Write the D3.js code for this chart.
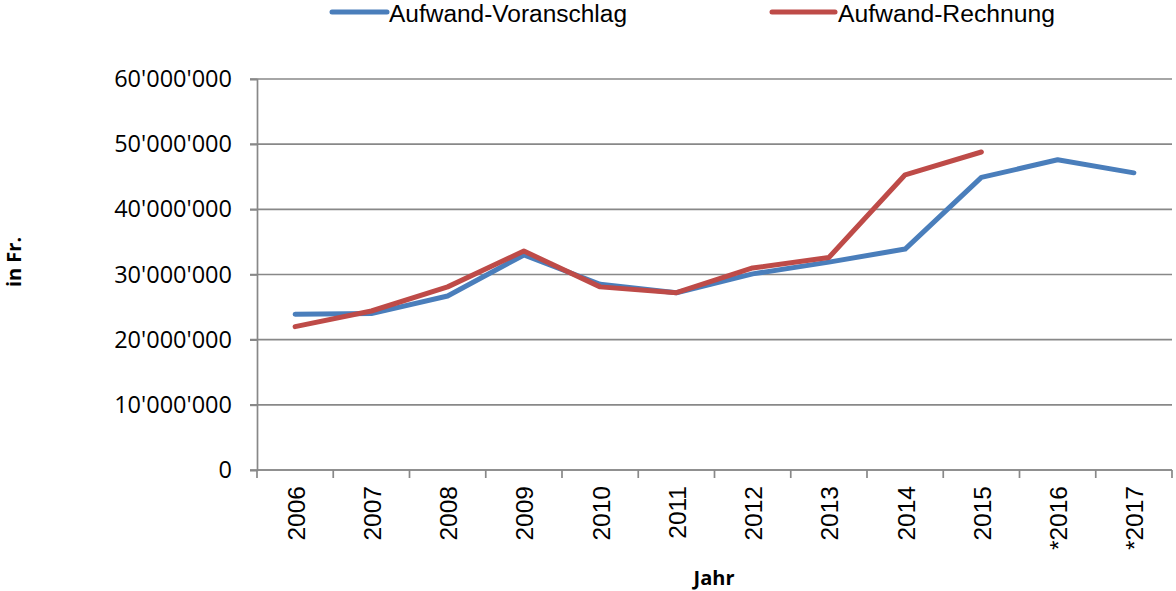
<!DOCTYPE html>
<html>
<head>
<meta charset="utf-8">
<script src="https://cdn.jsdelivr.net/npm/d3@7"></script>
<style>
  html, body { margin: 0; padding: 0; background: #fff; }
  svg { display: block; }
</style>
</head>
<body>
<svg id="chart" width="1176" height="591"></svg>
<script>
// Jahre (Kategorien) und Aufwandwerte in Franken
const years = ["2006", "2007", "2008", "2009", "2010", "2011", "2012", "2013", "2014", "2015", "*2016", "*2017"];
const voranschlag = [23900000, 24000000, 26700000, 33000000, 28500000, 27200000, 30100000, 31900000, 33900000, 44900000, 47600000, 45600000];
const rechnung = [22000000, 24400000, 28100000, 33600000, 28100000, 27200000, 31000000, 32600000, 45300000, 48800000, null, null];
const yTicks = [0, 10000000, 20000000, 30000000, 40000000, 50000000, 60000000];
const seriesNames = ["Aufwand-Voranschlag", "Aufwand-Rechnung"];
const seriesColors = ["#4A7EBB", "#BE4B48"];

const svg = d3.select("#chart");
const plotL = 257, plotR = 1172, plotT = 79, plotB = 470;

const x = d3.scaleBand().domain(years).range([plotL, plotR]).padding(0);
const y = d3.scaleLinear().domain([0, 60000000]).range([plotB, plotT]);

const fmt = v => d3.format(",")(v).replace(/,/g, "'");

// horizontale Gitterlinien
svg.append("g")
  .selectAll("line")
  .data(yTicks)
  .join("line")
  .attr("x1", plotL - 7).attr("x2", plotR)
  .attr("y1", d => y(d)).attr("y2", d => y(d))
  .attr("stroke", "#888").attr("stroke-width", 1.7);

// y-Achse
const yAxis = svg.append("g")
  .attr("transform", `translate(${plotL},0)`)
  .call(d3.axisLeft(y).tickValues(yTicks).tickFormat(fmt).tickSize(7).tickPadding(18));
yAxis.select(".domain").attr("stroke", "#888").attr("stroke-width", 1.7);
yAxis.selectAll(".tick line").attr("stroke", "#888").attr("stroke-width", 1.7);
yAxis.selectAll(".tick text")
  .attr("font-family", "'Open Sans', sans-serif")
  .attr("font-size", 23.5)
  .attr("fill", "#000");

// x-Achse mit Strichen an den Kategoriegrenzen
const xAxis = svg.append("g").attr("transform", `translate(0,${plotB})`);
xAxis.append("line")
  .attr("x1", plotL).attr("x2", plotR)
  .attr("stroke", "#888").attr("stroke-width", 1.7);
const bounds = years.map(d => x(d)).concat([plotR]);
xAxis.selectAll("line.tk")
  .data(bounds)
  .join("line")
  .attr("class", "tk")
  .attr("x1", d => d).attr("x2", d => d)
  .attr("y1", 0).attr("y2", 8)
  .attr("stroke", "#888").attr("stroke-width", 1.7);
xAxis.selectAll("text")
  .data(years)
  .join("text")
  .attr("transform", d => `translate(${x(d) + x.bandwidth() / 2 + 1},16) rotate(-90)`)
  .attr("text-anchor", "end")
  .attr("dy", "0.35em")
  .attr("font-family", "'Liberation Sans', Arial, sans-serif")
  .attr("font-size", 24.5)
  .attr("fill", "#000")
  .text(d => d);

// Linien
const line = d3.line()
  .defined(d => d != null)
  .x((d, i) => x(years[i]) + x.bandwidth() / 2)
  .y(d => y(d));

[voranschlag, rechnung].forEach((vals, k) => {
  svg.append("path")
    .datum(vals)
    .attr("fill", "none")
    .attr("stroke", seriesColors[k])
    .attr("stroke-width", 5)
    .attr("stroke-linecap", "round")
    .attr("stroke-linejoin", "round")
    .attr("d", line);
});

// Legende
const legendItems = [
  { x0: 332, x1: 387, tx: 389, tw: 238 },
  { x0: 772, x1: 835, tx: 838, tw: 217 }
];
legendItems.forEach((it, k) => {
  svg.append("line")
    .attr("x1", it.x0).attr("x2", it.x1)
    .attr("y1", 12).attr("y2", 12)
    .attr("stroke", seriesColors[k])
    .attr("stroke-width", 5)
    .attr("stroke-linecap", "round");
  svg.append("text")
    .attr("x", it.tx).attr("y", 21.5)
    .attr("font-family", "'Liberation Sans', Arial, sans-serif")
    .attr("font-size", 23)
    .attr("textLength", it.tw)
    .attr("lengthAdjust", "spacingAndGlyphs")
    .attr("fill", "#000")
    .text(seriesNames[k]);
});

// Achsentitel
svg.append("text")
  .attr("x", 714).attr("y", 585)
  .attr("text-anchor", "middle")
  .attr("font-family", "'Open Sans', sans-serif")
  .attr("font-weight", "bold")
  .attr("font-size", 20)
  .attr("fill", "#000")
  .text("Jahr");

svg.append("text")
  .attr("transform", "translate(21,262) rotate(-90)")
  .attr("text-anchor", "middle")
  .attr("font-family", "'Open Sans', sans-serif")
  .attr("font-weight", "bold")
  .attr("font-size", 20)
  .attr("fill", "#000")
  .text("in Fr.");
</script>
</body>
</html>
